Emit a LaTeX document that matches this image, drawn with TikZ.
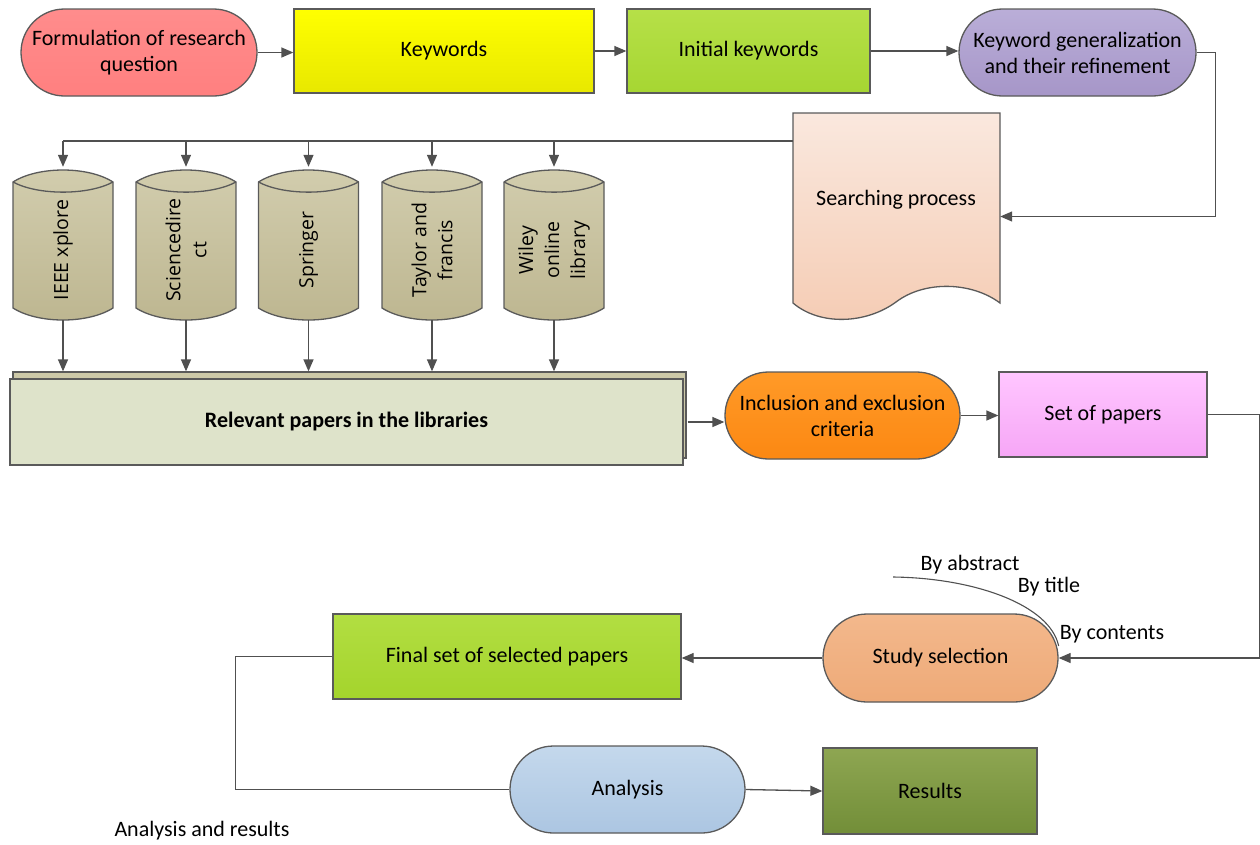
\documentclass[tikz,border=0pt]{standalone}
\usepackage{fontspec}
\setmainfont{Carlito}
\newfontfamily\cylfont{Open Sans}
\usetikzlibrary{arrows.meta,shadows,shapes.misc}
\definecolor{linec}{HTML}{505050}
\definecolor{edgec}{HTML}{5A5A5A}
\tikzset{
  base/.style={draw=edgec, line width=1.3pt, inner sep=0pt, align=center, font=\fontsize{22}{26}\selectfont, text=black},
  boxst/.style={base, rectangle},
  pill/.style={base, rounded rectangle},
  arr/.style={draw=linec, line width=1.3pt, -{Triangle[length=12pt,width=10pt]}},
  ln/.style={draw=linec, line width=1.3pt},
  cylbox/.style={minimum width=100pt, minimum height=150pt, inner sep=0pt},
  cylshape/.style={draw=edgec, line width=1.3pt, top color=cylA, bottom color=cylB},
  cyltext/.style={rotate=90, align=center, font=\cylfont\fontsize{19.5}{26}\selectfont},
  lbl/.style={font=\fontsize{22}{26}\selectfont, inner sep=0pt}
}
\definecolor{cylA}{HTML}{D2CDAE}
\definecolor{cylB}{HTML}{BDB690}
\newcommand\dbcyl[3]{%
  \draw[cylshape] ({#2-50},182) .. controls ({#2-25},166) and ({#2+25},166) .. ({#2+50},182)
     -- ({#2+50},308) .. controls ({#2+25},324) and ({#2-25},324) .. ({#2-50},308) -- cycle;
  \draw[draw=edgec, line width=1.3pt] ({#2-50},182) .. controls ({#2-25},195.5) and ({#2+25},195.5) .. ({#2+50},182);
  \node[cylbox] (#1) at (#2,245) {};
  \node[cyltext] at (#2,250) {#3};
}
\begin{document}
\begin{tikzpicture}[x=1pt,y=-1pt]
\useasboundingbox (0,0) rectangle (1260,844);

% top row
\node[pill, minimum width=236pt, minimum height=87pt, top color=red!45!white, bottom color=red!50!white, rounded rectangle arc length=180] (fq) at (139,52.5) {Formulation of research\\question};
\node[boxst, minimum width=300pt, minimum height=84pt, top color={rgb,255:red,255;green,255;blue,0}, bottom color={rgb,255:red,232;green,232;blue,0}] (kw) at (444,51) {Keywords};
\node[boxst, minimum width=243pt, minimum height=84pt, top color={rgb,255:red,182;green,224;blue,72}, bottom color={rgb,255:red,166;green,214;blue,50}] (ik) at (748.5,51) {Initial keywords};
\node[pill, minimum width=237pt, minimum height=87pt, top color={rgb,255:red,186;green,174;blue,216}, bottom color={rgb,255:red,166;green,150;blue,200}] (kg) at (1077.5,52.5) {Keyword generalization\\and their refinement};

\draw[arr] (fq.east) -- (fq.east -| kw.west);
\draw[arr] (kw.east) -- (kw.east -| ik.west);
\draw[arr] (ik.east) -- (ik.east -| kg.west);

% searching process (document shape)
\node[minimum width=207pt, minimum height=207pt, inner sep=0pt] (sp) at (896.5,216.5) {};
\draw[draw=edgec, line width=1.3pt, top color={rgb,255:red,250;green,232;blue,222}, bottom color={rgb,255:red,245;green,204;blue,180}]
  (793,113) -- (1000,113) -- (1000,303)
  .. controls (972,282) and (925,280) .. (896,302)
  .. controls (866,324) and (820,326) .. (793,303) -- cycle;
\node[lbl] (sptext) at (896,200) {Searching process};
\draw[arr] (kg.east) -- ++(19,0) |- (sp.east);

% cylinders
\dbcyl{c1}{63}{IEEE xplore}
\dbcyl{c2}{186}{Sciencedire\\ct}
\dbcyl{c3}{308.5}{Springer}
\dbcyl{c4}{432}{Taylor and\\francis}
\dbcyl{c5}{554}{Wiley\\online\\library}

\coordinate (bus) at ([yshift=75.5pt]sp.west);
\draw[ln] (bus) -- (bus -| c1.north);
\foreach \c in {c1,c2,c3,c4,c5}{
  \draw[arr] (bus -| \c.north) -- ([yshift=3pt]\c.north);
}

% relevant papers
\node[boxst, minimum width=673pt, minimum height=86pt, fill={rgb,255:red,222;green,227;blue,202},
  copy shadow={shadow xshift=3pt, shadow yshift=7pt, fill={rgb,255:red,205;green,201;blue,168}, draw=edgec, line width=1.3pt},
  font=\bfseries\fontsize{22}{26}\selectfont] (rel) at (346.5,422) {Relevant papers in the libraries};
\coordinate (relTop) at ([yshift=7pt]rel.north);
\foreach \c in {c1,c2,c3,c4,c5}{
  \draw[arr] (\c.south) -- (\c.south |- relTop);
}

% inclusion / set of papers
\node[pill, minimum width=235pt, minimum height=87pt, top color={rgb,255:red,255;green,154;blue,40}, bottom color={rgb,255:red,252;green,136;blue,18}] (inc) at (842.5,415.5) {Inclusion and exclusion\\criteria};
\node[boxst, minimum width=208pt, minimum height=85pt, top color={rgb,255:red,255;green,198;blue,255}, bottom color={rgb,255:red,246;green,166;blue,246}] (sop) at (1103,414.5) {Set of papers};
\draw[arr] ([xshift=4pt]rel.east) -- (rel.east -| inc.west);
\draw[arr] (inc.east) -- (inc.east -| sop.west);

% study selection
\node[pill, minimum width=235pt, minimum height=88pt, top color={rgb,255:red,243;green,184;blue,140}, bottom color={rgb,255:red,238;green,170;blue,120}] (ss) at (940.5,658) {Study selection};
\draw[arr] (sop.east) -- ++(52,0) |- (ss.east);

\coordinate (arcS) at (893,577);
\draw[ln, line width=1.1pt] (arcS) .. controls (975,578) and (1050,605) .. ([yshift=12pt]ss.east);
\node[lbl] (byab) at (970,565) {By abstract};
\node[lbl] (byti) at (1049,587) {By title};
\node[lbl] (byco) at (1112,634) {By contents};

% final set
\node[boxst, minimum width=348pt, minimum height=85pt, top color={rgb,255:red,178;green,222;blue,66}, bottom color={rgb,255:red,164;green,212;blue,44}] (fsp) at (507,656.5) {Final set of selected papers};
\draw[arr] (ss.west) -- (ss.west -| fsp.east);

% analysis / results
\node[pill, minimum width=235pt, minimum height=87pt, top color={rgb,255:red,196;green,216;blue,236}, bottom color={rgb,255:red,172;green,198;blue,226}] (an) at (627.5,789.5) {Analysis};
\node[boxst, minimum width=214pt, minimum height=86pt, top color={rgb,255:red,142;green,166;blue,82}, bottom color={rgb,255:red,114;green,142;blue,56}] (res) at (930,791) {Results};
\draw[ln] (fsp.west) -- ++(-97,0) |- (an.west);
\draw[arr] (an.east) -- (res.west);

\node[lbl] (anr) at (202,831) {Analysis and results};
\end{tikzpicture}
\end{document}
